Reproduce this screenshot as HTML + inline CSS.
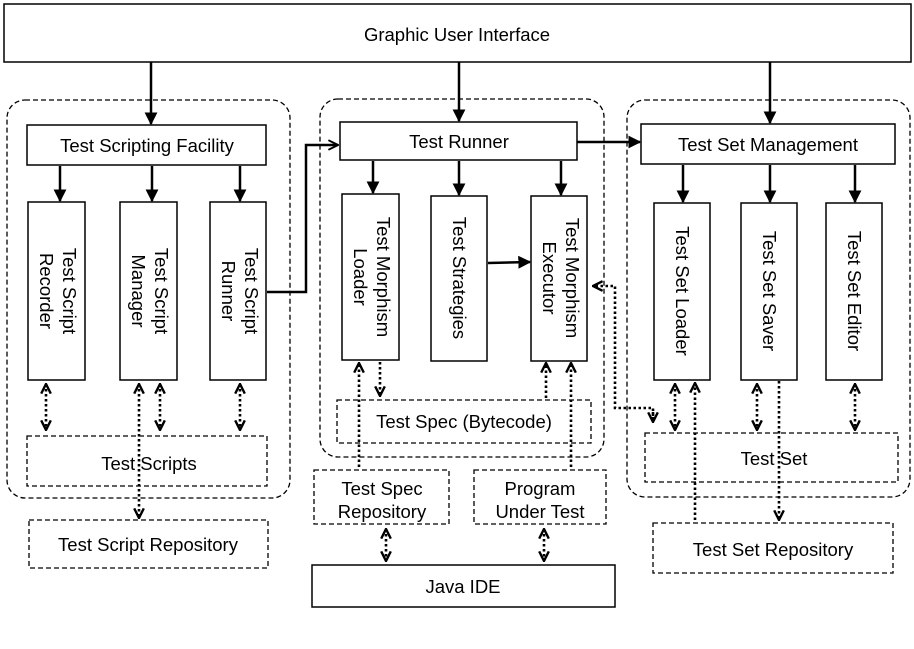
<!DOCTYPE html>
<html><head><meta charset="utf-8"><style>
html,body{margin:0;padding:0;background:#fff;}
svg{display:block;}
text{font-family:"Liberation Sans",Arial,sans-serif;font-size:18.5px;fill:#000;}
</style></head><body>
<svg width="914" height="649" viewBox="0 0 914 649" xmlns="http://www.w3.org/2000/svg">
<defs>
<marker id="a" viewBox="0 0 10 10" refX="9" refY="5" markerWidth="13" markerHeight="13" markerUnits="userSpaceOnUse" orient="auto"><path d="M0,0 L10,5 L0,10 z" fill="#000"/></marker>
<marker id="t" viewBox="0 0 10 10" refX="9" refY="5" markerWidth="12" markerHeight="12" markerUnits="userSpaceOnUse" orient="auto"><path d="M1,1 L9,5 L1,9" fill="none" stroke="#000" stroke-width="1.6"/></marker>
<marker id="o" viewBox="0 0 10 10" refX="9" refY="5" markerWidth="12" markerHeight="12" markerUnits="userSpaceOnUse" orient="auto"><path d="M1,1 L9,5 L1,9" fill="none" stroke="#000" stroke-width="2"/></marker>
<marker id="os" viewBox="0 0 10 10" refX="1" refY="5" markerWidth="12" markerHeight="12" markerUnits="userSpaceOnUse" orient="auto"><path d="M9,1 L1,5 L9,9" fill="none" stroke="#000" stroke-width="2"/></marker>
</defs>
<g fill="none" stroke="#000" stroke-width="1.3" stroke-dasharray="5,3">
<rect x="7" y="100" width="283" height="398" rx="18"/>
<rect x="320" y="99" width="284" height="358" rx="18"/>
<rect x="627" y="100" width="283" height="397" rx="18"/>
<rect x="27" y="436" width="240" height="50"/>
<rect x="29" y="520" width="239" height="48"/>
<rect x="337" y="400" width="254" height="43"/>
<rect x="314" y="470" width="135" height="54"/>
<rect x="474" y="470" width="132" height="54"/>
<rect x="645" y="433" width="253" height="49"/>
<rect x="653" y="523" width="240" height="50"/>
</g>
<g fill="#fff" stroke="#000" stroke-width="1.5">
<rect x="4" y="4" width="907" height="58"/>
<rect x="27" y="125" width="239" height="40"/>
<rect x="28" y="202" width="57" height="178"/>
<rect x="120" y="202" width="57" height="178"/>
<rect x="210" y="202" width="56" height="178"/>
<rect x="340" y="122" width="237" height="38"/>
<rect x="342" y="194" width="57" height="166"/>
<rect x="431" y="196" width="56" height="165"/>
<rect x="531" y="196" width="56" height="165"/>
<rect x="641" y="124" width="254" height="40"/>
<rect x="654" y="203" width="56" height="177"/>
<rect x="741" y="203" width="56" height="177"/>
<rect x="826" y="203" width="56" height="177"/>
<rect x="312" y="565" width="303" height="42"/>
</g>
<g stroke="#000" stroke-width="2.5" fill="none" marker-end="url(#a)">
<path d="M151 62 V124"/><path d="M459 62 V121"/><path d="M770 62 V123"/>
<path d="M60 166 V201"/><path d="M152 166 V201"/><path d="M240 166 V201"/>
<path d="M373 161 V193"/><path d="M459 161 V195"/><path d="M561 161 V195"/>
<path d="M683 165 V202"/><path d="M770 165 V202"/><path d="M855 165 V202"/>
<path d="M488 263 L530 262"/>
<path d="M577 142 H640"/>
</g>
<path d="M267 292 H306 V145 H338" stroke="#000" stroke-width="2.5" fill="none" marker-end="url(#t)"/>
<g stroke="#000" stroke-width="2.6" stroke-dasharray="2.5,2.5" fill="none">
<path d="M46 384 V430" marker-start="url(#os)" marker-end="url(#o)"/>
<path d="M139 384 V518" marker-start="url(#os)" marker-end="url(#o)"/>
<path d="M160 384 V430" marker-start="url(#os)" marker-end="url(#o)"/>
<path d="M240 384 V430" marker-start="url(#os)" marker-end="url(#o)"/>
<path d="M359 467 V363" marker-end="url(#o)"/>
<path d="M380 362 V396" marker-end="url(#o)"/>
<path d="M546 398 V363" marker-end="url(#o)"/>
<path d="M571 467 V363" marker-end="url(#o)"/>
<path d="M386 529 V561" marker-start="url(#os)" marker-end="url(#o)"/>
<path d="M544 529 V561" marker-start="url(#os)" marker-end="url(#o)"/>
<path d="M653 421 V408 H615 V286 H593" marker-end="url(#o)"/>
<path d="M653 412 V422" marker-end="url(#o)"/>
<path d="M675 384 V430" marker-start="url(#os)" marker-end="url(#o)"/>
<path d="M695 520 V383" marker-end="url(#o)"/>
<path d="M757 384 V430" marker-start="url(#os)" marker-end="url(#o)"/>
<path d="M779 381 V520" marker-end="url(#o)"/>
<path d="M855 384 V430" marker-start="url(#os)" marker-end="url(#o)"/>
</g>
<g text-anchor="middle">
<text x="457" y="41">Graphic User Interface</text>
<text x="147" y="152">Test Scripting Facility</text>
<text x="149" y="470">Test Scripts</text>
<text x="148" y="551">Test Script Repository</text>
<text x="459" y="148">Test Runner</text>
<text x="464" y="428">Test Spec (Bytecode)</text>
<text x="382" y="495">Test Spec</text>
<text x="382" y="518">Repository</text>
<text x="540" y="495">Program</text>
<text x="540" y="518">Under Test</text>
<text x="463" y="593">Java IDE</text>
<text x="768" y="151">Test Set Management</text>
<text x="774" y="465">Test Set</text>
<text x="773" y="556">Test Set Repository</text>
<text transform="translate(63,291) rotate(90)">Test Script</text>
<text transform="translate(40,291) rotate(90)">Recorder</text>
<text transform="translate(155,291) rotate(90)">Test Script</text>
<text transform="translate(132,291) rotate(90)">Manager</text>
<text transform="translate(245,291) rotate(90)">Test Script</text>
<text transform="translate(222,291) rotate(90)">Runner</text>
<text transform="translate(377,277) rotate(90)">Test Morphism</text>
<text transform="translate(354,277) rotate(90)">Loader</text>
<text transform="translate(453,278) rotate(90)">Test Strategies</text>
<text transform="translate(566,278) rotate(90)">Test Morphism</text>
<text transform="translate(543,278) rotate(90)">Executor</text>
<text transform="translate(676,291) rotate(90)">Test Set Loader</text>
<text transform="translate(763,291) rotate(90)">Test Set Saver</text>
<text transform="translate(848,291) rotate(90)">Test Set Editor</text>
</g>
</svg>
</body></html>
